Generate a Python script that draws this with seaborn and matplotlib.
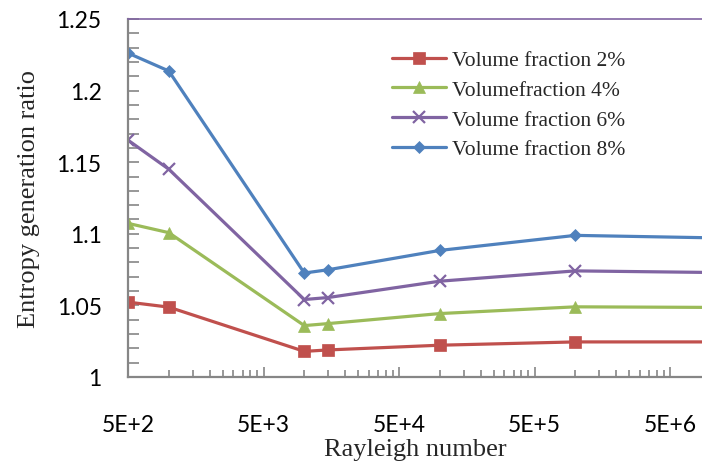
import numpy as np
import pandas as pd
import matplotlib
matplotlib.use("Agg")
import matplotlib.pyplot as plt
import matplotlib.ticker as mticker
import seaborn as sns

# Data
rayleigh = [500, 1000, 10000, 15000, 100000, 1000000, 10000000]
vf2 = [1.0523, 1.0488, 1.0179, 1.0189, 1.0222, 1.0245, 1.0245]
vf4 = [1.1073, 1.1008, 1.0359, 1.0373, 1.0443, 1.0490, 1.0486]
vf6 = [1.1654, 1.1451, 1.0541, 1.0555, 1.0669, 1.0741, 1.0730]
vf8 = [1.2262, 1.2137, 1.0726, 1.0749, 1.0884, 1.0989, 1.0972]
labels = ["Volume fraction 2%", "Volumefraction 4%",
          "Volume fraction 6%", "Volume fraction 8%"]
major_ticks = [5e2, 5e3, 5e4, 5e5, 5e6]
tick_labels = ["5E+2", "5E+3", "5E+4", "5E+5", "5E+6"]

df = pd.concat([
    pd.DataFrame({"Ra": rayleigh, "ratio": vals, "series": lab})
    for vals, lab in zip([vf2, vf4, vf6, vf8], labels)
])

colors = ["#C0504D", "#9BBB59", "#8064A2", "#4F81BD"]
markers = ["s", "^", "x", "D"]
msizes = [8, 8, 8, 6]

sns.set_style("white")
fig = plt.figure(figsize=(7.02, 4.64), dpi=100)
ax = fig.add_axes([128 / 702, 1 - 378 / 464, 1 - 128 / 702, (378 - 20) / 464])

for lab, c, m, ms in zip(labels, colors, markers, msizes):
    sub = df[df["series"] == lab]
    sns.lineplot(data=sub, x="Ra", y="ratio", ax=ax, color=c, marker=m,
                 markersize=ms, markeredgecolor=c, markeredgewidth=1.6 if m == "x" else 0.5,
                 linewidth=2.3, label=lab, sort=False)

ax.set_xscale("log")
ax.set_xlim(500, 500 * 10 ** (574 / 135.5))
ax.set_ylim(1.0, 1.25)

ax.xaxis.set_major_locator(mticker.FixedLocator(major_ticks))
ax.xaxis.set_major_formatter(mticker.FixedFormatter(tick_labels))
minor = [500 * k * 10 ** n for n in range(5) for k in range(2, 10)]
ax.xaxis.set_minor_locator(mticker.FixedLocator(minor))
ax.xaxis.set_minor_formatter(mticker.NullFormatter())

ax.yaxis.set_major_locator(mticker.MultipleLocator(0.05))
ax.yaxis.set_major_formatter(mticker.FuncFormatter(lambda v, p: f"{v:.2f}".rstrip("0").rstrip(".")))
ax.yaxis.set_minor_locator(mticker.MultipleLocator(0.01))

tick_font = "Lato"
for t in ax.get_xticklabels() + ax.get_yticklabels():
    t.set_fontfamily(tick_font)
    t.set_fontsize(16.5)
    t.set_color("black")

ax.tick_params(axis="x", which="major", direction="in", length=7, width=1.2,
               color="#868686", pad=27, bottom=True)
ax.tick_params(axis="x", which="minor", direction="in", length=5, width=1.2,
               color="#868686", bottom=True)
ax.tick_params(axis="y", which="both", direction="in", length=8, width=1.2,
               color="#868686", pad=19, left=True)

for side in ["left", "bottom"]:
    ax.spines[side].set_color("#868686")
    ax.spines[side].set_linewidth(1.6)
ax.spines["top"].set_color("#8064A2")
ax.spines["top"].set_linewidth(1.2)
ax.spines["right"].set_visible(False)

ax.set_xlabel("Rayleigh number", fontfamily="Liberation Serif", fontsize=19, labelpad=2)
ax.set_ylabel("Entropy generation ratio", fontfamily="Liberation Serif", fontsize=19, labelpad=12)

leg = ax.legend(loc="upper left", bbox_to_anchor=(392 / 702, 1 - 51 / 464),
                bbox_transform=fig.transFigure, frameon=False,
                prop={"family": "Liberation Serif", "size": 15.5},
                handlelength=2.5, handletextpad=0.3, labelspacing=0.45,
                borderaxespad=0, borderpad=0)

fig.savefig("out.png", dpi=100)
